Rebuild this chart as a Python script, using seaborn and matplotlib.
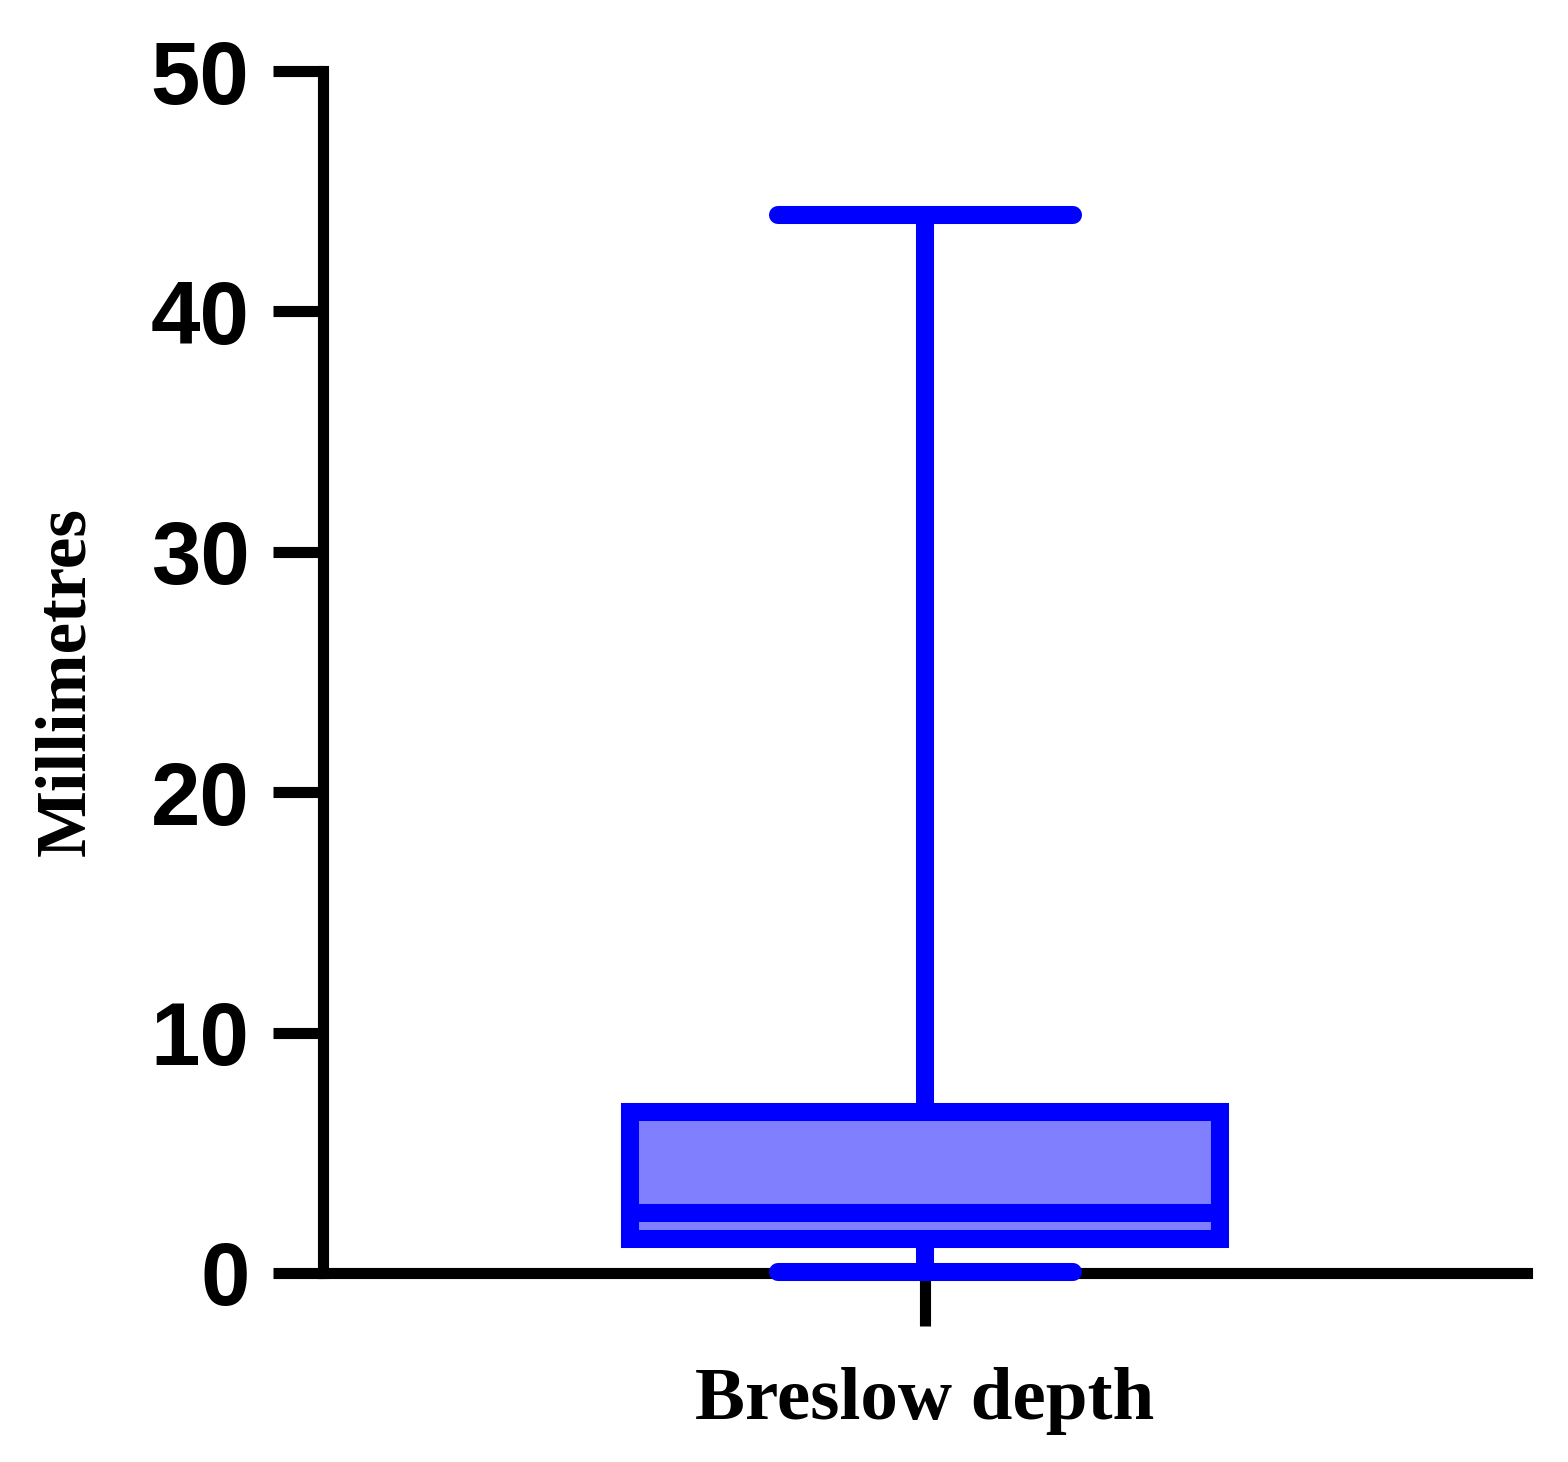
import numpy as np
import pandas as pd
import matplotlib
matplotlib.use("Agg")
import matplotlib.pyplot as plt
import seaborn as sns

# ===== data: five-number summary (mm) =====
category = "Breslow depth"
breslow_mm = [0.05, 1.4, 2.5, 6.7, 44.0]   # min, Q1, median, Q3, max
y_ticks = [0, 10, 20, 30, 40, 50]

df = pd.DataFrame({"group": [category] * len(breslow_mm), "depth": breslow_mm})

sns.set_style("ticks")

fig = plt.figure(figsize=(15.68, 14.62), dpi=100)
ax = fig.add_axes([0.206, 0.1293, 0.768, 0.8221])

edge = "#0000FF"
lw = 13
sns.boxplot(data=df, x="group", y="depth", ax=ax,
            whis=(0, 100), width=0.49, color="#8080FF", saturation=1,
            linecolor=edge, linewidth=lw,
            capprops=dict(solid_capstyle="round"),
            whiskerprops=dict(solid_capstyle="butt"))

for a in ax.lines + ax.patches:
    a.set_clip_on(False)
    a.set_zorder(3)

ax.set_xlim(-0.5, 0.5)
ax.set_ylim(0, 50)
ax.set_yticks(y_ticks)

sns.despine(ax=ax)
for s in ["left", "bottom"]:
    ax.spines[s].set_linewidth(8)
    ax.spines[s].set_color("black")
    ax.spines[s].set_zorder(1)

tick_font = {"family": "Liberation Sans", "weight": "bold", "size": 64}
lab_font = {"family": "Liberation Serif", "weight": "bold", "size": 54}

ax.tick_params(axis="y", length=36, width=8, pad=17, color="black", labelcolor="black")
ax.tick_params(axis="x", length=38, width=8, pad=30, color="black", labelcolor="black")
for t in ax.get_yticklabels():
    t.set_fontproperties(tick_font)
for t in ax.get_xticklabels():
    t.set_fontproperties(lab_font)

ax.set_xlabel("")
ax.set_ylabel("Millimetres", fontdict=lab_font, color="black", fontsize=51)
ax.yaxis.set_label_coords(-0.2126, 0.4917)
ax.yaxis.label.set_verticalalignment("center")

fig.savefig("out.png", dpi=100)
